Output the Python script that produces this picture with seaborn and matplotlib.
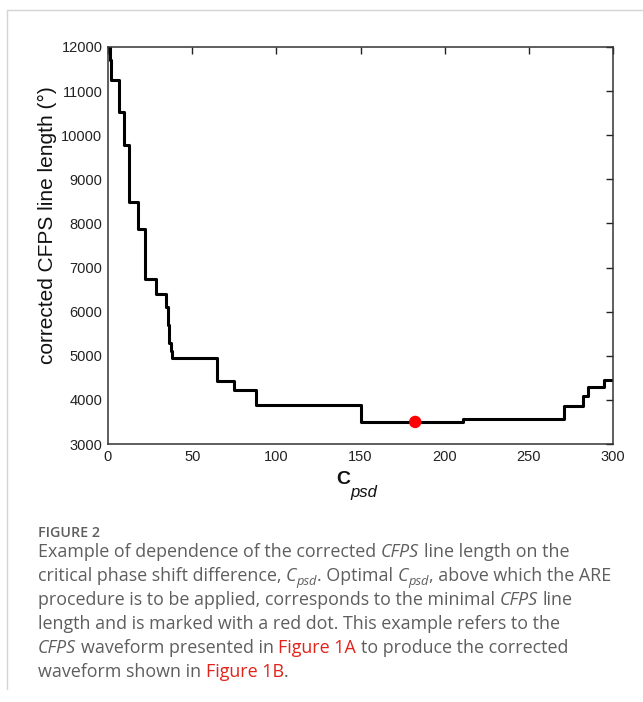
import numpy as np
import pandas as pd
import matplotlib
matplotlib.use("Agg")
import matplotlib.pyplot as plt
import seaborn as sns
from matplotlib.lines import Line2D
from matplotlib.transforms import IdentityTransform

# ---- data ----
c_psd = [0, 1, 2, 6.5, 9.5, 12.5, 18, 22, 28.5, 34.5, 35.5, 36.5, 37.5, 38,
         64.5, 75, 88, 150, 211, 271, 282, 285, 294.5, 300]
line_length = [12000, 11700, 11250, 10530, 9770, 8480, 7880, 6740, 6400, 6100,
               5700, 5300, 5100, 4940, 4430, 4220, 3895, 3500, 3575, 3864,
               4090, 4295, 4448, 4448]
opt_c = [182.5]
opt_length = [3500]
x_ticks = [0, 50, 100, 150, 200, 250, 300]
y_ticks = [3000, 4000, 5000, 6000, 7000, 8000, 9000, 10000, 11000, 12000]

W, H = 643, 702
sns.set_style("white")
plt.rcParams['font.family'] = ['Liberation Sans', 'DejaVu Sans']

fig = plt.figure(figsize=(W / 100, H / 100), dpi=100)
fig.patch.set_facecolor("white")

L, R, T, B = 108, 613, 47, 444
ax = fig.add_axes([L / W, 1 - B / H, (R - L) / W, (B - T) / H])

df = pd.DataFrame({"c": c_psd, "len": line_length})
sns.lineplot(data=df, x="c", y="len", drawstyle="steps-post", color="black",
             lw=2.2, ax=ax, estimator=None)
sns.scatterplot(x=opt_c, y=opt_length, color="red", s=80, edgecolor="none",
                zorder=5, ax=ax)

ax.set_xlim(0, 300)
ax.set_ylim(3000, 12000)
ax.set_xticks(x_ticks)
ax.set_yticks(y_ticks)
ax.set_xticklabels([str(v) for v in x_ticks])
ax.set_yticklabels([str(v) for v in y_ticks])
ax.set_xlabel("")
ax.set_ylabel("")
ax.tick_params(direction="in", length=5, width=1, top=True, right=True,
               labelsize=10.5, colors="#222222", pad=4)
for s in ax.spines.values():
    s.set_visible(True)
    s.set_color("#333333")
    s.set_linewidth(1.1)

ident = IdentityTransform()


def px(x, y):
    return x, H - y


# y label
fig.text(*px(47, 225), "corrected CFPS line length (°)", rotation=90,
         ha="center", va="center", fontsize=15, color="#111111",
         transform=ident)
# x label
fig.text(*px(343, 479), "C", ha="center", va="center", fontsize=14,
         fontweight="bold", color="#111111", transform=ident)
fig.text(*px(364, 493), "psd", ha="center", va="center", fontsize=12,
         style="italic", color="#111111", transform=ident)

# frame lines
border = "#d4d4d4"
fig.add_artist(Line2D([6.5, 6.5], [H - 9.5, H - 689], color=border, lw=1,
                      transform=ident))
fig.add_artist(Line2D([6.5, W], [H - 9.5, H - 9.5], color=border, lw=1,
                      transform=ident))

# caption
cap_font = ["Open Sans", "DejaVu Sans"]
gray = "#5e5e5e"
red = "#e2231a"
fs = 12.9
fig.text(*px(38, 537), "FIGURE 2", fontsize=10.3, fontweight="semibold",
         color=gray, family=cap_font, transform=ident, va="baseline")

renderer = fig.canvas.get_renderer()


def twidth(s, **kw):
    t = fig.text(0, 0, s, transform=ident, **kw)
    w = t.get_window_extent(renderer).width
    t.remove()
    return w


def draw_line(segs, x0, yb):
    x = x0
    for text, kind in segs:
        kw = dict(fontsize=fs, family=cap_font, color=gray)
        dy = 0
        if kind == "i":
            kw["style"] = "italic"
        elif kind == "sub":
            kw["style"] = "italic"
            kw["fontsize"] = fs * 0.72
            dy = -3.5
        elif kind == "red":
            kw["color"] = red
        sw = twidth("a a", **kw) - twidth("aa", **kw)
        lead = len(text) - len(text.lstrip(" "))
        trail = len(text) - len(text.rstrip(" "))
        core = text.strip(" ")
        x += lead * sw
        if core:
            t = fig.text(x, H - yb + dy, core, transform=ident,
                         va="baseline", ha="left", **kw)
            x += t.get_window_extent(renderer).width
        x += trail * sw
    return x


lines = [
    [("Example of dependence of the corrected ", "n"), ("CFPS", "i"),
     (" line length on the", "n")],
    [("critical phase shift difference, ", "n"), ("C", "i"), ("psd", "sub"),
     (". Optimal ", "n"), ("C", "i"), ("psd", "sub"),
     (", above which the ARE", "n")],
    [("procedure is to be applied, corresponds to the minimal ", "n"),
     ("CFPS", "i"), (" line", "n")],
    [("length and is marked with a red dot. This example refers to the", "n")],
    [("CFPS", "i"), (" waveform presented in ", "n"), ("Figure 1A", "red"),
     (" to produce the corrected", "n")],
    [("waveform shown in ", "n"), ("Figure 1B", "red"), (".", "n")],
]
baselines = [557, 581, 605, 629, 653, 677]
for segs, yb in zip(lines, baselines):
    draw_line(segs, 38, yb)

fig.savefig("out.png", dpi=100, facecolor="white")
